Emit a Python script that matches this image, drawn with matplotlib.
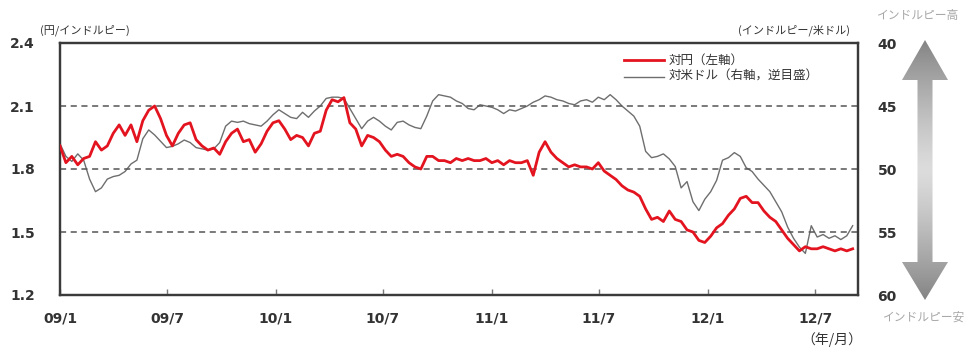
import matplotlib
matplotlib.use("Agg")
import matplotlib.pyplot as plt
import numpy as np
import pandas as pd
from matplotlib.patches import Polygon

plt.rcParams['font.family'] = ['Noto Sans CJK JP', 'DejaVu Sans']

# Rupee vs yen (left axis, yen per rupee), sampled every 10 days from Jan 2009
jpy_per_inr = [
    1.91, 1.83, 1.86, 1.82, 1.85, 1.86, 1.93, 1.89, 1.91, 1.97,
    2.01, 1.96, 2.01, 1.93, 2.03, 2.08, 2.10, 2.04, 1.96, 1.91,
    1.97, 2.01, 2.02, 1.94, 1.91, 1.89, 1.90, 1.87, 1.93, 1.97,
    1.99, 1.93, 1.94, 1.88, 1.92, 1.98, 2.02, 2.03, 1.99, 1.94,
    1.96, 1.95, 1.91, 1.97, 1.98, 2.08, 2.13, 2.12, 2.14, 2.02,
    1.99, 1.91, 1.96, 1.95, 1.93, 1.89, 1.86, 1.87, 1.86, 1.83,
    1.81, 1.80, 1.86, 1.86, 1.84, 1.84, 1.83, 1.85, 1.84, 1.85,
    1.84, 1.84, 1.85, 1.83, 1.84, 1.82, 1.84, 1.83, 1.83, 1.84,
    1.77, 1.88, 1.93, 1.88, 1.85, 1.83, 1.81, 1.82, 1.81, 1.81,
    1.80, 1.83, 1.79, 1.77, 1.75, 1.72, 1.70, 1.69, 1.67, 1.61,
    1.56, 1.57, 1.55, 1.60, 1.56, 1.55, 1.51, 1.50, 1.46, 1.45,
    1.48, 1.52, 1.54, 1.58, 1.61, 1.66, 1.67, 1.64, 1.64, 1.60,
    1.57, 1.55, 1.51, 1.47, 1.44, 1.41, 1.43, 1.42, 1.42, 1.43,
    1.42, 1.41, 1.42, 1.41, 1.42,
]

# Rupee vs US dollar (right axis, inverted, rupees per dollar)
inr_per_usd = [
    48.0, 49.0, 49.4, 48.8, 49.3, 50.8, 51.8, 51.5, 50.8, 50.6,
    50.5, 50.2, 49.6, 49.3, 47.6, 46.9, 47.3, 47.8, 48.3, 48.2,
    48.0, 47.7, 47.9, 48.3, 48.4, 48.5, 48.4, 47.9, 46.6, 46.2,
    46.3, 46.2, 46.4, 46.5, 46.6, 46.2, 45.7, 45.3, 45.6, 45.9,
    46.0, 45.5, 45.9, 45.4, 45.0, 44.4, 44.3, 44.3, 44.4, 45.2,
    46.0, 46.8, 46.2, 45.9, 46.2, 46.6, 46.9, 46.3, 46.2, 46.5,
    46.7, 46.8, 45.8, 44.6, 44.1, 44.2, 44.3, 44.6, 44.8, 45.2,
    45.3, 44.9, 45.0, 45.1, 45.3, 45.6, 45.3, 45.4, 45.2, 45.0,
    44.7, 44.5, 44.2, 44.3, 44.5, 44.6, 44.8, 44.9, 44.6, 44.5,
    44.7, 44.3, 44.5, 44.1, 44.5, 45.0, 45.4, 45.8, 46.6, 48.6,
    49.1, 49.0, 48.8, 49.2, 49.8, 51.5, 51.0, 52.6, 53.3, 52.4,
    51.8, 50.9, 49.3, 49.1, 48.7, 49.0, 49.9, 50.2, 50.8, 51.3,
    51.8, 52.6, 53.4, 54.6, 55.5, 56.2, 56.7, 54.5, 55.4, 55.2,
    55.5, 55.3, 55.6, 55.3, 54.5,
]

dates_jpy = pd.date_range("2009-01-01", periods=len(jpy_per_inr), freq="10D")
dates_usd = pd.date_range("2009-01-01", periods=len(inr_per_usd), freq="10D")

tick_dates = pd.to_datetime(["2009-01-01", "2009-07-01", "2010-01-01", "2010-07-01",
                             "2011-01-01", "2011-07-01", "2012-01-01", "2012-07-01"])
tick_labels = ["09/1", "09/7", "10/1", "10/7", "11/1", "11/7", "12/1", "12/7"]
left_ticks = [1.2, 1.5, 1.8, 2.1, 2.4]
right_ticks = [40, 45, 50, 55, 60]

W, H = 980, 356
fig = plt.figure(figsize=(W / 100, H / 100), dpi=100)
fig.patch.set_facecolor("white")

ax = fig.add_axes([60 / W, 1 - 295 / H, 798 / W, 252 / H])
ax2 = ax.twinx()

red = "#e3141f"
grey = "#6e6e6e"
txt = "#333333"

ax2.plot(dates_usd, inr_per_usd, color=grey, lw=1.0, zorder=2)
ax.plot(dates_jpy, jpy_per_inr, color=red, lw=2.0, zorder=3)
ax.set_zorder(ax2.get_zorder() + 1)
ax.patch.set_visible(False)

ax.set_xlim(pd.Timestamp("2009-01-01"), pd.Timestamp("2012-09-11"))
ax.set_ylim(1.2, 2.4)
ax2.set_ylim(60, 40)

for v in [1.5, 1.8, 2.1]:
    ax.axhline(v, color="#555555", lw=1.1, ls=(0, (4, 3)), zorder=1)

ax.set_yticks(left_ticks)
ax.set_yticklabels([f"{v:.1f}" for v in left_ticks], fontsize=10, color=txt,
                   fontweight="bold", family=["DejaVu Sans"])
ax2.set_yticks(right_ticks)
ax2.set_yticklabels([str(v) for v in right_ticks], fontsize=10, color=txt,
                    fontweight="bold", family=["DejaVu Sans"])
ax.set_xticks(tick_dates)
ax.set_xticklabels(tick_labels, fontsize=10, color=txt, fontweight="bold",
                   family=["DejaVu Sans"])

ax.tick_params(axis="x", direction="in", length=4, width=1, color="#777777", pad=12)
ax.tick_params(axis="y", length=0, pad=18)
ax2.tick_params(axis="y", length=0, pad=14)

for a in (ax, ax2):
    for s in a.spines.values():
        s.set_color("#3a3a3a")
        s.set_linewidth(1.6)

# legend drawn as plain lines and texts
lx0, lx1 = pd.Timestamp("2011-08-12"), pd.Timestamp("2011-10-19")
tx = pd.Timestamp("2011-10-27")
ax.plot([lx0, lx1], [2.318, 2.318], color=red, lw=2.0)
ax.plot([lx0, lx1], [2.240, 2.240], color=grey, lw=1.0)
ax.text(tx, 2.318, "対円（左軸）", fontsize=9, color=txt, va="center", ha="left")
ax.text(tx, 2.240, "対米ドル（右軸，逆目盛）", fontsize=9, color=txt,
        va="center", ha="left")

# axis captions
fig.text(40 / W, 1 - 30 / H, "(円/インドルピー)", fontsize=8, color=txt, va="center", ha="left")
fig.text(850 / W, 1 - 30 / H, "(インドルピー/米ドル)", fontsize=8, color=txt,
         va="center", ha="right")
fig.text(862 / W, 1 - 340 / H, "（年/月）", fontsize=10, color=txt, va="center", ha="right")
fig.text(877 / W, 1 - 16 / H, "インドルピー高", fontsize=8.5, color="#a8a8a8",
         va="center", ha="left")
fig.text(883 / W, 1 - 317 / H, "インドルピー安", fontsize=8.5, color="#a8a8a8",
         va="center", ha="left")

# two-headed gradient arrow on the right
axa = fig.add_axes([893 / W, 1 - 305 / H, 64 / W, 270 / H])
axa.set_xlim(893, 957)
axa.set_ylim(305, 35)
axa.axis("off")
cx, hw, sw = 925, 23, 7.5
top, top_base, bot_base, bot = 40, 80, 262, 300
pts = [(cx, top), (cx + hw, top_base), (cx + sw, top_base), (cx + sw, bot_base),
       (cx + hw, bot_base), (cx, bot), (cx - hw, bot_base), (cx - sw, bot_base),
       (cx - sw, top_base), (cx - hw, top_base)]
poly = Polygon(pts, closed=True, facecolor="none", edgecolor="none")
axa.add_patch(poly)
yy = np.linspace(35, 305, 300)
shade = np.abs(yy - 170) / 135
shade = 0.86 - 0.36 * np.clip(shade, 0, 1) ** 1.3
img = np.tile(shade[:, None], (1, 40))
im = axa.imshow(img, cmap="gray", vmin=0, vmax=1, extent=(893, 957, 305, 35),
                aspect="auto", interpolation="bilinear")
im.set_clip_path(poly)

fig.savefig("out.png", dpi=100, facecolor="white")
